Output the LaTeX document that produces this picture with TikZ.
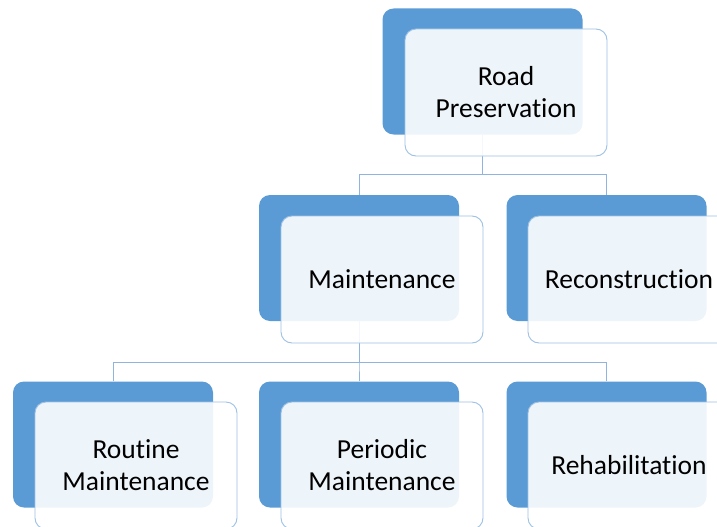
\documentclass[tikz,border=0pt]{standalone}
\usepackage{fontspec}
\setmainfont{Carlito}[RawFeature=-liga]
\definecolor{darkblue}{HTML}{5B9BD5}
\definecolor{lightborder}{HTML}{9DC0E4}
\definecolor{linkcol}{HTML}{8FB5DF}
\begin{document}
\begin{tikzpicture}[x=1pt,y=-1pt,
  backbox/.style={rectangle,rounded corners=11pt,fill=darkblue,draw=none,
    minimum width=200pt,minimum height=126pt,inner sep=0pt},
  frontbox/.style={rectangle,rounded corners=11pt,fill=white,fill opacity=0.9,
    text opacity=1,draw=lightborder,draw opacity=1,line width=0.9pt,
    minimum width=202pt,minimum height=127pt,inner sep=0pt,align=center,
    font=\fontsize{27.5}{32}\selectfont,text=black},
  link/.style={draw=linkcol,line width=1pt}]
\useasboundingbox (0,0) rectangle (717,527);
\clip (0,0) rectangle (717,527);
% back boxes
\node[backbox] (b0) at (482.5,71.5) {};
\node[backbox] (b1) at (359,258) {};
\node[backbox] (b2) at (606.5,258) {};
\node[backbox] (b3) at (113,444.5) {};
\node[backbox] (b4) at (359,444.5) {};
\node[backbox] (b5) at (606.5,444.5) {};
% connectors
\draw[link] (b0.south) -- ++(0,39.5) -| (b1.north);
\draw[link] (b0.south) -- ++(0,39.5) -| (b2.north);
\draw[link] (b1.south) -- ++(0,41) -| (b3.north);
\draw[link] (b1.south) -- ++(0,41) -| (b4.north);
\draw[link] (b1.south) -- ++(0,41) -| (b5.north);
% front boxes
\node[frontbox] (f0) at (506,92.5) {Road\\Preservation};
\node[frontbox] (f1) at (382,279.5) {Maintenance};
\node[frontbox] (f2) at (629,279.5) {Reconstruction};
\node[frontbox] (f3) at (136,465.5) {Routine\\Maintenance};
\node[frontbox] (f4) at (382,465.5) {Periodic\\Maintenance};
\node[frontbox] (f5) at (629,465.5) {Rehabilitation};
\end{tikzpicture}
\end{document}
